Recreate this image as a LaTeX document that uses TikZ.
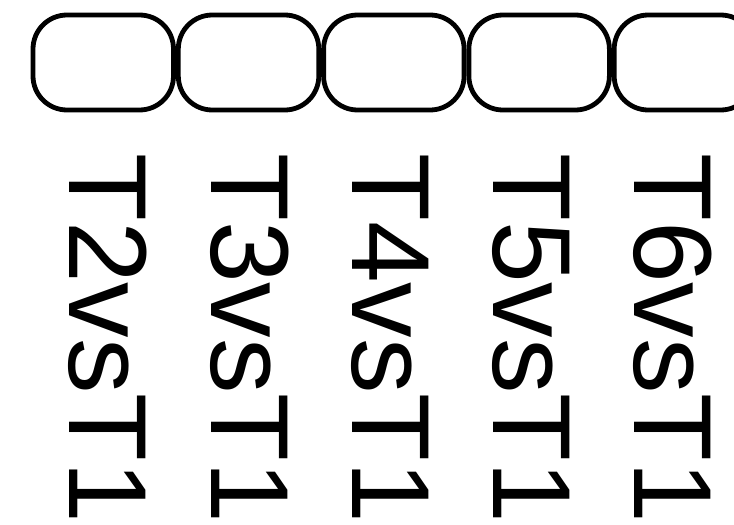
\documentclass[tikz,border=0pt]{standalone}
\usepackage{fontspec}
\setmainfont{Liberation Sans}
\usetikzlibrary{positioning}

\begin{document}
\begin{tikzpicture}[x=1pt,y=-1pt,
  cmpbox/.style={draw=black, line width=4.8pt, rounded corners=34pt,
    minimum width=140.5pt, minimum height=95pt, inner sep=0pt},
  cmplabel/.style={rotate=-90, anchor=base west, inner sep=0pt,
    font=\fontsize{111}{111}\selectfont}]
\useasboundingbox (0,0) rectangle (734,525);
\node[cmpbox] (box2) at (103.25,62.5) {};
\node[cmpbox, right=0pt of box2] (box3) {};
\node[cmpbox, right=0pt of box3] (box4) {};
\node[cmpbox, right=0pt of box4] (box5) {};
\node[cmpbox, right=0pt of box5] (box6) {};
\node[cmplabel] (lab2) at (69,153) {T2vsT1};
\node[cmplabel] (lab3) at (211,153) {T3vsT1};
\node[cmplabel] (lab4) at (352,153) {T4vsT1};
\node[cmplabel] (lab5) at (493,153) {T5vsT1};
\node[cmplabel] (lab6) at (634,153) {T6vsT1};
\end{tikzpicture}
\end{document}
